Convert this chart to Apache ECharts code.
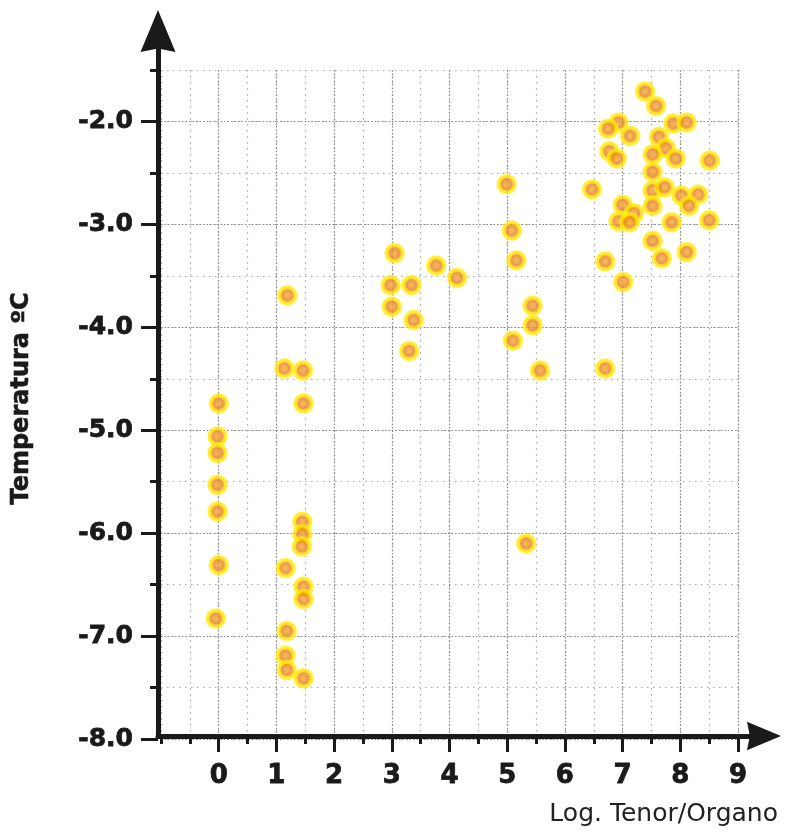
<!DOCTYPE html>
<html>
<head>
<meta charset="utf-8">
<script src="https://cdn.jsdelivr.net/npm/echarts@6/dist/echarts.min.js"></script>
<style>
  html, body { margin: 0; padding: 0; background: #fff; }
  #chart { width: 794px; height: 833px; }
</style>
</head>
<body>
<div id="chart"></div>
<script>
// valores
const logTenor = [
  0.0, -0.02, -0.02, -0.02, -0.02, 0.0, -0.05,
  1.19, 1.14, 1.46, 1.47, 1.45, 1.45, 1.44, 1.16, 1.47, 1.47, 1.18, 1.16, 1.18, 1.47,
  3.05, 3.77, 4.13, 2.98, 3.34, 3.0, 3.38, 3.30,
  4.99, 5.08, 5.16, 5.44, 5.44, 5.10, 5.57, 5.33,
  6.47, 7.52, 7.52, 7.73, 8.02, 8.31, 8.15, 7.00, 7.20, 7.52, 6.93, 7.12, 7.85, 8.50,
  7.52, 8.11, 7.68, 6.70, 7.01, 6.70,
  7.39, 7.58, 6.93, 6.75, 7.13, 7.88, 8.11, 7.63, 7.75, 6.77, 6.90, 7.52, 7.92, 8.51
]
const temperatura = [
  -4.74, -5.06, -5.22, -5.53, -5.79, -6.31, -6.83,
  -3.69, -4.40, -4.42, -4.74, -5.89, -6.01, -6.13, -6.34, -6.52, -6.64, -6.95, -7.19, -7.33, -7.41,
  -3.28, -3.40, -3.52, -3.59, -3.59, -3.80, -3.93, -4.23,
  -2.61, -3.06, -3.35, -3.79, -3.98, -4.13, -4.42, -6.10,
  -2.66, -2.49, -2.67, -2.64, -2.72, -2.71, -2.82, -2.81, -2.89, -2.82, -2.97, -2.98, -2.98, -2.96,
  -3.16, -3.27, -3.33, -3.36, -3.56, -4.40,
  -1.71, -1.85, -2.01, -2.07, -2.14, -2.02, -2.01, -2.15, -2.26, -2.29, -2.36, -2.32, -2.36, -2.38
]

// rango de los ejes
const xRange = [-1, 9]
const yRange = [-8, -1.5]

const ink = '#1a1a1a'
const font = 'DejaVu Sans'
const majorDots = { color: '#8c8c8c', width: 1.2, type: [1.5, 2] }
const minorDots = { color: '#a8a8a8', width: 1.2, type: [1.5, 4.5] }
const tickStyle = { color: ink, width: 3 }

const points = logTenor.map((x, i) => [x, temperatura[i]])

const chart = echarts.init(document.getElementById('chart'))

const arrowPath = 'path://M5,0 L10,12 L5,11 L0,12 Z'
const hidden = { show: false }

// rejilla 0: datos; 1: flechas; 2: marcas largas en x; 3: marcas largas en y
const gLeft = 161, gRight = 56, gTop = 70, gBottom = 94
const unitX = (794 - gLeft - gRight) / (xRange[1] - xRange[0])
const unitY = (833 - gTop - gBottom) / (yRange[1] - yRange[0])

chart.setOption({
  animation: false,
  grid: [
    { left: gLeft, right: gRight, top: gTop, bottom: gBottom, outerBoundsMode: 'none' },
    { left: 158, right: 30, top: 31, bottom: 97, outerBoundsMode: 'none' },
    { left: gLeft + unitX, right: gRight, top: gTop, bottom: gBottom, outerBoundsMode: 'none' },
    { left: gLeft, right: gRight, top: gTop + unitY * 0.5, bottom: gBottom, outerBoundsMode: 'none' }
  ],
  xAxis: [
    {
      type: 'value', gridIndex: 0, position: 'bottom', min: xRange[0], max: xRange[1], interval: 0.5, offset: -3,
      axisLine: { show: false, onZero: false },
      axisTick: { show: true, length: 8, lineStyle: tickStyle },
      axisLabel: {
        margin: 27, color: ink, fontFamily: font, fontSize: 26, fontWeight: 'bold',
        textBorderColor: ink, textBorderWidth: 0.8,
        formatter: v => (Number.isInteger(v) && v >= 0) ? String(v) : ''
      },
      splitLine: { show: true, lineStyle: minorDots }
    },
    {
      type: 'value', gridIndex: 1, position: 'bottom', min: 0, max: 1,
      axisLine: {
        show: true, onZero: false,
        lineStyle: { color: ink, width: 5 },
        symbol: ['none', arrowPath], symbolSize: [44, 34]
      },
      axisTick: hidden, axisLabel: hidden, splitLine: hidden,
      name: 'Log. Tenor/Organo', nameLocation: 'end', nameGap: 14,
      nameTextStyle: {
        align: 'right', verticalAlign: 'top', padding: [66, 0, 0, 0],
        color: '#222', fontFamily: font, fontSize: 25
      }
    },
    {
      type: 'value', gridIndex: 2, position: 'bottom', min: 0, max: xRange[1], interval: 1, offset: -3,
      axisLine: { show: false, onZero: false },
      axisTick: { show: true, length: 16, lineStyle: tickStyle },
      axisLabel: hidden,
      splitLine: { show: true, lineStyle: majorDots }
    },
    {
      type: 'value', gridIndex: 3, position: 'bottom', min: xRange[0], max: xRange[1],
      show: false
    }
  ],
  yAxis: [
    {
      type: 'value', gridIndex: 0, position: 'left', min: yRange[0], max: yRange[1], interval: 0.5, offset: 3,
      axisLine: { show: false, onZero: false },
      axisTick: { show: true, length: 8, lineStyle: tickStyle },
      axisLabel: {
        margin: 25, color: ink, fontFamily: font, fontSize: 25, fontWeight: 'bold',
        textBorderColor: ink, textBorderWidth: 0.8,
        formatter: v => Number.isInteger(v) ? v.toFixed(1) : ''
      },
      splitLine: { show: true, lineStyle: minorDots },
      name: 'Temperatura ºC', nameLocation: 'middle', nameGap: 124, nameRotate: 90,
      nameTextStyle: {
        color: ink, fontFamily: font, fontSize: 24, fontWeight: 'bold',
        textBorderColor: ink, textBorderWidth: 0.6,
        padding: [0, 0, 0, 12]
      }
    },
    {
      type: 'value', gridIndex: 1, position: 'left', min: 0, max: 1,
      axisLine: {
        show: true, onZero: false,
        lineStyle: { color: ink, width: 5 },
        symbol: ['none', arrowPath], symbolSize: [38, 42]
      },
      axisTick: hidden, axisLabel: hidden, splitLine: hidden
    },
    {
      type: 'value', gridIndex: 2, position: 'left', min: yRange[0], max: yRange[1],
      show: false
    },
    {
      type: 'value', gridIndex: 3, position: 'left', min: yRange[0], max: -2, interval: 1, offset: 3,
      axisLine: { show: false, onZero: false },
      axisTick: { show: true, length: 17, lineStyle: tickStyle },
      axisLabel: hidden,
      splitLine: { show: true, lineStyle: majorDots }
    }
  ],
  series: [
    {
      type: 'scatter',
      xAxisIndex: 0,
      yAxisIndex: 0,
      symbol: 'circle',
      symbolSize: 21,
      itemStyle: {
        color: new echarts.graphic.RadialGradient(0.5, 0.5, 0.5, [
          { offset: 0, color: '#f3a43c' },
          { offset: 0.28, color: '#ee9530' },
          { offset: 0.44, color: '#e5801a' },
          { offset: 0.56, color: '#f09a10' },
          { offset: 0.64, color: '#ffd500' },
          { offset: 0.88, color: '#ffee00' },
          { offset: 1, color: 'rgba(255, 240, 80, 0.6)' }
        ])
      },
      data: points
    }
  ]
})
</script>
</body>
</html>
